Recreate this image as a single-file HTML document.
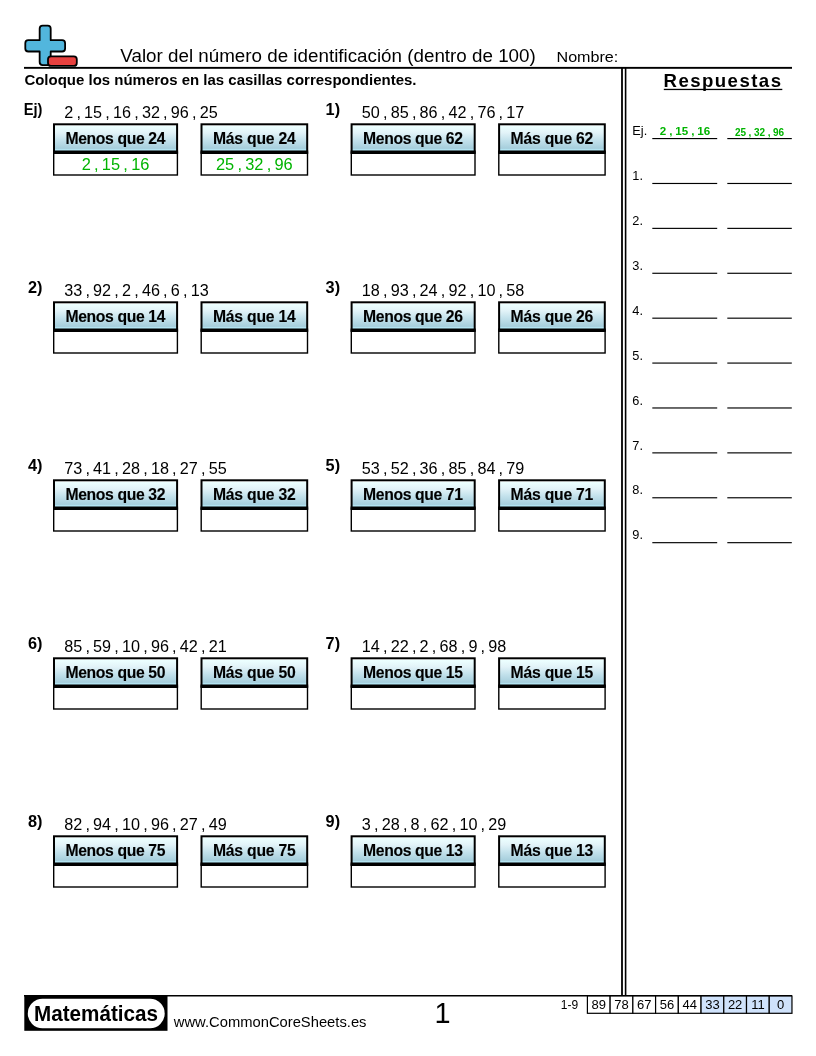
<!DOCTYPE html>
<html lang="es"><head><meta charset="utf-8"><title>Valor del número de identificación</title>
<style>html,body{margin:0;padding:0;background:#fff;}body{width:816px;height:1056px;overflow:hidden;position:relative;}svg{position:absolute;left:0;top:0;display:block;will-change:transform;}text{font-family:"Liberation Sans",Arial,sans-serif;}.b{font-weight:bold;}</style></head><body>
<svg width="816" height="1056" viewBox="0 0 816 1056">
<defs><linearGradient id="g" x1="0" y1="0" x2="0" y2="1"><stop offset="0.035" stop-color="#ffffff"/><stop offset="0.075" stop-color="#ecffff"/><stop offset="0.3" stop-color="#e2f3f8"/><stop offset="0.55" stop-color="#c4e2ec"/><stop offset="0.85" stop-color="#a6cedc"/><stop offset="0.895" stop-color="#b4e6f4"/><stop offset="1" stop-color="#b4e6f4"/></linearGradient></defs>
<g stroke="#000" stroke-width="1.8" stroke-linejoin="round"><path d="M42.65 25.70 H47.70 Q50.70 25.70 50.70 28.70 V40.20 H62.10 Q65.10 40.20 65.10 43.20 V48.50 Q65.10 51.50 62.10 51.50 H50.70 V62.10 Q50.70 65.10 47.70 65.10 H42.65 Q39.65 65.10 39.65 62.10 V51.50 H28.30 Q25.30 51.50 25.30 48.50 V43.20 Q25.30 40.20 28.30 40.20 H39.65 V28.70 Q39.65 25.70 42.65 25.70 Z" fill="#52b6dd"/><rect x="48" y="56.3" width="28.8" height="9.6" rx="3" fill="#e8413f"/></g>
<rect x="24" y="66.9" width="768" height="1.9" fill="#000"/>
<text transform="translate(120.30 61.70) scale(0.985 1)" font-size="19.1">Valor del número de identificación (dentro de 100)</text>
<text transform="translate(556.50 61.70) scale(1.04 1)" font-size="15.5">Nombre:</text>
<text transform="translate(24.40 85.30) scale(0.973 1)" class="b" font-size="15.4">Coloque los números en las casillas correspondientes.</text>
<rect x="621.1" y="68" width="1.8" height="928" fill="#000"/>
<rect x="624.8" y="68" width="1.6" height="928" fill="#000"/>
<text transform="translate(42.50 115.40) scale(0.9 1)" class="b" font-size="16.3" text-anchor="end">Ej)</text>
<text x="64.20" y="117.60" font-size="16.2" word-spacing="-1.3">2 , 15 , 16 , 32 , 96 , 25</text>
<rect x="54.00" y="124.30" width="123.10" height="28.30" fill="url(#g)" stroke="#000" stroke-width="2"/>
<rect x="53.00" y="150.50" width="125.10" height="3.1" fill="#000"/>
<rect x="53.70" y="153.30" width="123.70" height="21.70" fill="none" stroke="#000" stroke-width="1.4"/>
<text transform="translate(115.25 143.50) scale(0.965 1)" class="b" font-size="16.3" text-anchor="middle" letter-spacing="-0.38" stroke="#000" stroke-width="0.12">Menos que 24</text>
<text x="115.55" y="169.90" font-size="16.4" text-anchor="middle" word-spacing="-1.3" fill="#00b400">2 , 15 , 16</text>
<rect x="201.50" y="124.30" width="105.70" height="28.30" fill="url(#g)" stroke="#000" stroke-width="2"/>
<rect x="200.50" y="150.50" width="107.70" height="3.1" fill="#000"/>
<rect x="201.20" y="153.30" width="106.30" height="21.70" fill="none" stroke="#000" stroke-width="1.4"/>
<text transform="translate(254.25 143.50) scale(0.965 1)" class="b" font-size="16.3" text-anchor="middle" letter-spacing="-0.22" stroke="#000" stroke-width="0.12">Más que 24</text>
<text x="254.35" y="169.90" font-size="16.4" text-anchor="middle" word-spacing="-1.3" fill="#00b400">25 , 32 , 96</text>
<text x="340.10" y="115.40" class="b" font-size="16.3" text-anchor="end">1)</text>
<text x="361.80" y="117.60" font-size="16.2" word-spacing="-1.3">50 , 85 , 86 , 42 , 76 , 17</text>
<rect x="351.60" y="124.30" width="123.10" height="28.30" fill="url(#g)" stroke="#000" stroke-width="2"/>
<rect x="350.60" y="150.50" width="125.10" height="3.1" fill="#000"/>
<rect x="351.30" y="153.30" width="123.70" height="21.70" fill="none" stroke="#000" stroke-width="1.4"/>
<text transform="translate(412.85 143.50) scale(0.965 1)" class="b" font-size="16.3" text-anchor="middle" letter-spacing="-0.38" stroke="#000" stroke-width="0.12">Menos que 62</text>
<rect x="499.10" y="124.30" width="105.70" height="28.30" fill="url(#g)" stroke="#000" stroke-width="2"/>
<rect x="498.10" y="150.50" width="107.70" height="3.1" fill="#000"/>
<rect x="498.80" y="153.30" width="106.30" height="21.70" fill="none" stroke="#000" stroke-width="1.4"/>
<text transform="translate(551.85 143.50) scale(0.965 1)" class="b" font-size="16.3" text-anchor="middle" letter-spacing="-0.22" stroke="#000" stroke-width="0.12">Más que 62</text>
<text x="42.50" y="293.40" class="b" font-size="16.3" text-anchor="end">2)</text>
<text x="64.20" y="295.60" font-size="16.2" word-spacing="-1.3">33 , 92 , 2 , 46 , 6 , 13</text>
<rect x="54.00" y="302.30" width="123.10" height="28.30" fill="url(#g)" stroke="#000" stroke-width="2"/>
<rect x="53.00" y="328.50" width="125.10" height="3.1" fill="#000"/>
<rect x="53.70" y="331.30" width="123.70" height="21.70" fill="none" stroke="#000" stroke-width="1.4"/>
<text transform="translate(115.25 321.50) scale(0.965 1)" class="b" font-size="16.3" text-anchor="middle" letter-spacing="-0.38" stroke="#000" stroke-width="0.12">Menos que 14</text>
<rect x="201.50" y="302.30" width="105.70" height="28.30" fill="url(#g)" stroke="#000" stroke-width="2"/>
<rect x="200.50" y="328.50" width="107.70" height="3.1" fill="#000"/>
<rect x="201.20" y="331.30" width="106.30" height="21.70" fill="none" stroke="#000" stroke-width="1.4"/>
<text transform="translate(254.25 321.50) scale(0.965 1)" class="b" font-size="16.3" text-anchor="middle" letter-spacing="-0.22" stroke="#000" stroke-width="0.12">Más que 14</text>
<text x="340.10" y="293.40" class="b" font-size="16.3" text-anchor="end">3)</text>
<text x="361.80" y="295.60" font-size="16.2" word-spacing="-1.3">18 , 93 , 24 , 92 , 10 , 58</text>
<rect x="351.60" y="302.30" width="123.10" height="28.30" fill="url(#g)" stroke="#000" stroke-width="2"/>
<rect x="350.60" y="328.50" width="125.10" height="3.1" fill="#000"/>
<rect x="351.30" y="331.30" width="123.70" height="21.70" fill="none" stroke="#000" stroke-width="1.4"/>
<text transform="translate(412.85 321.50) scale(0.965 1)" class="b" font-size="16.3" text-anchor="middle" letter-spacing="-0.38" stroke="#000" stroke-width="0.12">Menos que 26</text>
<rect x="499.10" y="302.30" width="105.70" height="28.30" fill="url(#g)" stroke="#000" stroke-width="2"/>
<rect x="498.10" y="328.50" width="107.70" height="3.1" fill="#000"/>
<rect x="498.80" y="331.30" width="106.30" height="21.70" fill="none" stroke="#000" stroke-width="1.4"/>
<text transform="translate(551.85 321.50) scale(0.965 1)" class="b" font-size="16.3" text-anchor="middle" letter-spacing="-0.22" stroke="#000" stroke-width="0.12">Más que 26</text>
<text x="42.50" y="471.40" class="b" font-size="16.3" text-anchor="end">4)</text>
<text x="64.20" y="473.60" font-size="16.2" word-spacing="-1.3">73 , 41 , 28 , 18 , 27 , 55</text>
<rect x="54.00" y="480.30" width="123.10" height="28.30" fill="url(#g)" stroke="#000" stroke-width="2"/>
<rect x="53.00" y="506.50" width="125.10" height="3.1" fill="#000"/>
<rect x="53.70" y="509.30" width="123.70" height="21.70" fill="none" stroke="#000" stroke-width="1.4"/>
<text transform="translate(115.25 499.50) scale(0.965 1)" class="b" font-size="16.3" text-anchor="middle" letter-spacing="-0.38" stroke="#000" stroke-width="0.12">Menos que 32</text>
<rect x="201.50" y="480.30" width="105.70" height="28.30" fill="url(#g)" stroke="#000" stroke-width="2"/>
<rect x="200.50" y="506.50" width="107.70" height="3.1" fill="#000"/>
<rect x="201.20" y="509.30" width="106.30" height="21.70" fill="none" stroke="#000" stroke-width="1.4"/>
<text transform="translate(254.25 499.50) scale(0.965 1)" class="b" font-size="16.3" text-anchor="middle" letter-spacing="-0.22" stroke="#000" stroke-width="0.12">Más que 32</text>
<text x="340.10" y="471.40" class="b" font-size="16.3" text-anchor="end">5)</text>
<text x="361.80" y="473.60" font-size="16.2" word-spacing="-1.3">53 , 52 , 36 , 85 , 84 , 79</text>
<rect x="351.60" y="480.30" width="123.10" height="28.30" fill="url(#g)" stroke="#000" stroke-width="2"/>
<rect x="350.60" y="506.50" width="125.10" height="3.1" fill="#000"/>
<rect x="351.30" y="509.30" width="123.70" height="21.70" fill="none" stroke="#000" stroke-width="1.4"/>
<text transform="translate(412.85 499.50) scale(0.965 1)" class="b" font-size="16.3" text-anchor="middle" letter-spacing="-0.38" stroke="#000" stroke-width="0.12">Menos que 71</text>
<rect x="499.10" y="480.30" width="105.70" height="28.30" fill="url(#g)" stroke="#000" stroke-width="2"/>
<rect x="498.10" y="506.50" width="107.70" height="3.1" fill="#000"/>
<rect x="498.80" y="509.30" width="106.30" height="21.70" fill="none" stroke="#000" stroke-width="1.4"/>
<text transform="translate(551.85 499.50) scale(0.965 1)" class="b" font-size="16.3" text-anchor="middle" letter-spacing="-0.22" stroke="#000" stroke-width="0.12">Más que 71</text>
<text x="42.50" y="649.40" class="b" font-size="16.3" text-anchor="end">6)</text>
<text x="64.20" y="651.60" font-size="16.2" word-spacing="-1.3">85 , 59 , 10 , 96 , 42 , 21</text>
<rect x="54.00" y="658.30" width="123.10" height="28.30" fill="url(#g)" stroke="#000" stroke-width="2"/>
<rect x="53.00" y="684.50" width="125.10" height="3.1" fill="#000"/>
<rect x="53.70" y="687.30" width="123.70" height="21.70" fill="none" stroke="#000" stroke-width="1.4"/>
<text transform="translate(115.25 677.50) scale(0.965 1)" class="b" font-size="16.3" text-anchor="middle" letter-spacing="-0.38" stroke="#000" stroke-width="0.12">Menos que 50</text>
<rect x="201.50" y="658.30" width="105.70" height="28.30" fill="url(#g)" stroke="#000" stroke-width="2"/>
<rect x="200.50" y="684.50" width="107.70" height="3.1" fill="#000"/>
<rect x="201.20" y="687.30" width="106.30" height="21.70" fill="none" stroke="#000" stroke-width="1.4"/>
<text transform="translate(254.25 677.50) scale(0.965 1)" class="b" font-size="16.3" text-anchor="middle" letter-spacing="-0.22" stroke="#000" stroke-width="0.12">Más que 50</text>
<text x="340.10" y="649.40" class="b" font-size="16.3" text-anchor="end">7)</text>
<text x="361.80" y="651.60" font-size="16.2" word-spacing="-1.3">14 , 22 , 2 , 68 , 9 , 98</text>
<rect x="351.60" y="658.30" width="123.10" height="28.30" fill="url(#g)" stroke="#000" stroke-width="2"/>
<rect x="350.60" y="684.50" width="125.10" height="3.1" fill="#000"/>
<rect x="351.30" y="687.30" width="123.70" height="21.70" fill="none" stroke="#000" stroke-width="1.4"/>
<text transform="translate(412.85 677.50) scale(0.965 1)" class="b" font-size="16.3" text-anchor="middle" letter-spacing="-0.38" stroke="#000" stroke-width="0.12">Menos que 15</text>
<rect x="499.10" y="658.30" width="105.70" height="28.30" fill="url(#g)" stroke="#000" stroke-width="2"/>
<rect x="498.10" y="684.50" width="107.70" height="3.1" fill="#000"/>
<rect x="498.80" y="687.30" width="106.30" height="21.70" fill="none" stroke="#000" stroke-width="1.4"/>
<text transform="translate(551.85 677.50) scale(0.965 1)" class="b" font-size="16.3" text-anchor="middle" letter-spacing="-0.22" stroke="#000" stroke-width="0.12">Más que 15</text>
<text x="42.50" y="827.40" class="b" font-size="16.3" text-anchor="end">8)</text>
<text x="64.20" y="829.60" font-size="16.2" word-spacing="-1.3">82 , 94 , 10 , 96 , 27 , 49</text>
<rect x="54.00" y="836.30" width="123.10" height="28.30" fill="url(#g)" stroke="#000" stroke-width="2"/>
<rect x="53.00" y="862.50" width="125.10" height="3.1" fill="#000"/>
<rect x="53.70" y="865.30" width="123.70" height="21.70" fill="none" stroke="#000" stroke-width="1.4"/>
<text transform="translate(115.25 855.50) scale(0.965 1)" class="b" font-size="16.3" text-anchor="middle" letter-spacing="-0.38" stroke="#000" stroke-width="0.12">Menos que 75</text>
<rect x="201.50" y="836.30" width="105.70" height="28.30" fill="url(#g)" stroke="#000" stroke-width="2"/>
<rect x="200.50" y="862.50" width="107.70" height="3.1" fill="#000"/>
<rect x="201.20" y="865.30" width="106.30" height="21.70" fill="none" stroke="#000" stroke-width="1.4"/>
<text transform="translate(254.25 855.50) scale(0.965 1)" class="b" font-size="16.3" text-anchor="middle" letter-spacing="-0.22" stroke="#000" stroke-width="0.12">Más que 75</text>
<text x="340.10" y="827.40" class="b" font-size="16.3" text-anchor="end">9)</text>
<text x="361.80" y="829.60" font-size="16.2" word-spacing="-1.3">3 , 28 , 8 , 62 , 10 , 29</text>
<rect x="351.60" y="836.30" width="123.10" height="28.30" fill="url(#g)" stroke="#000" stroke-width="2"/>
<rect x="350.60" y="862.50" width="125.10" height="3.1" fill="#000"/>
<rect x="351.30" y="865.30" width="123.70" height="21.70" fill="none" stroke="#000" stroke-width="1.4"/>
<text transform="translate(412.85 855.50) scale(0.965 1)" class="b" font-size="16.3" text-anchor="middle" letter-spacing="-0.38" stroke="#000" stroke-width="0.12">Menos que 13</text>
<rect x="499.10" y="836.30" width="105.70" height="28.30" fill="url(#g)" stroke="#000" stroke-width="2"/>
<rect x="498.10" y="862.50" width="107.70" height="3.1" fill="#000"/>
<rect x="498.80" y="865.30" width="106.30" height="21.70" fill="none" stroke="#000" stroke-width="1.4"/>
<text transform="translate(551.85 855.50) scale(0.965 1)" class="b" font-size="16.3" text-anchor="middle" letter-spacing="-0.22" stroke="#000" stroke-width="0.12">Más que 13</text>
<text x="723.00" y="87.40" class="b" font-size="18.6" text-anchor="middle" letter-spacing="1.45">Respuestas</text>
<rect x="663.8" y="88.8" width="118.5" height="1.3" fill="#000"/>
<text transform="translate(632.30 135.20) scale(0.94 1)" font-size="13.6">Ej.</text>
<rect x="652.3" y="138.00" width="64.9" height="1.15" fill="#000"/>
<rect x="727.3" y="138.00" width="64.5" height="1.15" fill="#000"/>
<text transform="translate(632.30 180.10) scale(0.94 1)" font-size="13.6">1.</text>
<rect x="652.3" y="182.90" width="64.9" height="1.15" fill="#000"/>
<rect x="727.3" y="182.90" width="64.5" height="1.15" fill="#000"/>
<text transform="translate(632.30 225.00) scale(0.94 1)" font-size="13.6">2.</text>
<rect x="652.3" y="227.80" width="64.9" height="1.15" fill="#000"/>
<rect x="727.3" y="227.80" width="64.5" height="1.15" fill="#000"/>
<text transform="translate(632.30 269.90) scale(0.94 1)" font-size="13.6">3.</text>
<rect x="652.3" y="272.70" width="64.9" height="1.15" fill="#000"/>
<rect x="727.3" y="272.70" width="64.5" height="1.15" fill="#000"/>
<text transform="translate(632.30 314.80) scale(0.94 1)" font-size="13.6">4.</text>
<rect x="652.3" y="317.60" width="64.9" height="1.15" fill="#000"/>
<rect x="727.3" y="317.60" width="64.5" height="1.15" fill="#000"/>
<text transform="translate(632.30 359.70) scale(0.94 1)" font-size="13.6">5.</text>
<rect x="652.3" y="362.50" width="64.9" height="1.15" fill="#000"/>
<rect x="727.3" y="362.50" width="64.5" height="1.15" fill="#000"/>
<text transform="translate(632.30 404.60) scale(0.94 1)" font-size="13.6">6.</text>
<rect x="652.3" y="407.40" width="64.9" height="1.15" fill="#000"/>
<rect x="727.3" y="407.40" width="64.5" height="1.15" fill="#000"/>
<text transform="translate(632.30 449.50) scale(0.94 1)" font-size="13.6">7.</text>
<rect x="652.3" y="452.30" width="64.9" height="1.15" fill="#000"/>
<rect x="727.3" y="452.30" width="64.5" height="1.15" fill="#000"/>
<text transform="translate(632.30 494.40) scale(0.94 1)" font-size="13.6">8.</text>
<rect x="652.3" y="497.20" width="64.9" height="1.15" fill="#000"/>
<rect x="727.3" y="497.20" width="64.5" height="1.15" fill="#000"/>
<text transform="translate(632.30 539.30) scale(0.94 1)" font-size="13.6">9.</text>
<rect x="652.3" y="542.10" width="64.9" height="1.15" fill="#000"/>
<rect x="727.3" y="542.10" width="64.5" height="1.15" fill="#000"/>
<text x="685.00" y="135.40" class="b" font-size="11.6" text-anchor="middle" word-spacing="-0.3" fill="#00b400">2 , 15 , 16</text>
<text x="759.50" y="135.80" class="b" font-size="10" text-anchor="middle" word-spacing="-0.2" fill="#00b400">25 , 32 , 96</text>
<rect x="24" y="995" width="768" height="1.5" fill="#000"/>
<rect x="24.3" y="995" width="143.2" height="35.8" fill="#000"/>
<rect x="27.8" y="998.8" width="136.9" height="29.4" rx="14.7" fill="#fff"/>
<text transform="translate(96.00 1021.40) scale(0.97 1)" class="b" font-size="21.3" text-anchor="middle">Matemáticas</text>
<text transform="translate(173.80 1027.40) scale(1.062 1)" font-size="13.9">www.CommonCoreSheets.es</text>
<text x="442.50" y="1022.60" font-size="28.9" text-anchor="middle">1</text>
<text x="569.50" y="1009.40" font-size="12" text-anchor="middle">1-9</text>
<rect x="587.40" y="996" width="22.73" height="17.3" fill="#fff" stroke="#000" stroke-width="1.2"/>
<text x="598.76" y="1009.40" font-size="13" text-anchor="middle">89</text>
<rect x="610.13" y="996" width="22.73" height="17.3" fill="#fff" stroke="#000" stroke-width="1.2"/>
<text x="621.50" y="1009.40" font-size="13" text-anchor="middle">78</text>
<rect x="632.86" y="996" width="22.73" height="17.3" fill="#fff" stroke="#000" stroke-width="1.2"/>
<text x="644.23" y="1009.40" font-size="13" text-anchor="middle">67</text>
<rect x="655.59" y="996" width="22.73" height="17.3" fill="#fff" stroke="#000" stroke-width="1.2"/>
<text x="666.95" y="1009.40" font-size="13" text-anchor="middle">56</text>
<rect x="678.32" y="996" width="22.73" height="17.3" fill="#fff" stroke="#000" stroke-width="1.2"/>
<text x="689.68" y="1009.40" font-size="13" text-anchor="middle">44</text>
<rect x="701.05" y="996" width="22.73" height="17.3" fill="#cfe2fb" stroke="#000" stroke-width="1.2"/>
<text x="712.41" y="1009.40" font-size="13" text-anchor="middle">33</text>
<rect x="723.78" y="996" width="22.73" height="17.3" fill="#cfe2fb" stroke="#000" stroke-width="1.2"/>
<text x="735.14" y="1009.40" font-size="13" text-anchor="middle">22</text>
<rect x="746.51" y="996" width="22.73" height="17.3" fill="#cfe2fb" stroke="#000" stroke-width="1.2"/>
<text x="757.88" y="1009.40" font-size="13" text-anchor="middle">11</text>
<rect x="769.24" y="996" width="22.73" height="17.3" fill="#cfe2fb" stroke="#000" stroke-width="1.2"/>
<text x="780.61" y="1009.40" font-size="13" text-anchor="middle">0</text>
</svg></body></html>
